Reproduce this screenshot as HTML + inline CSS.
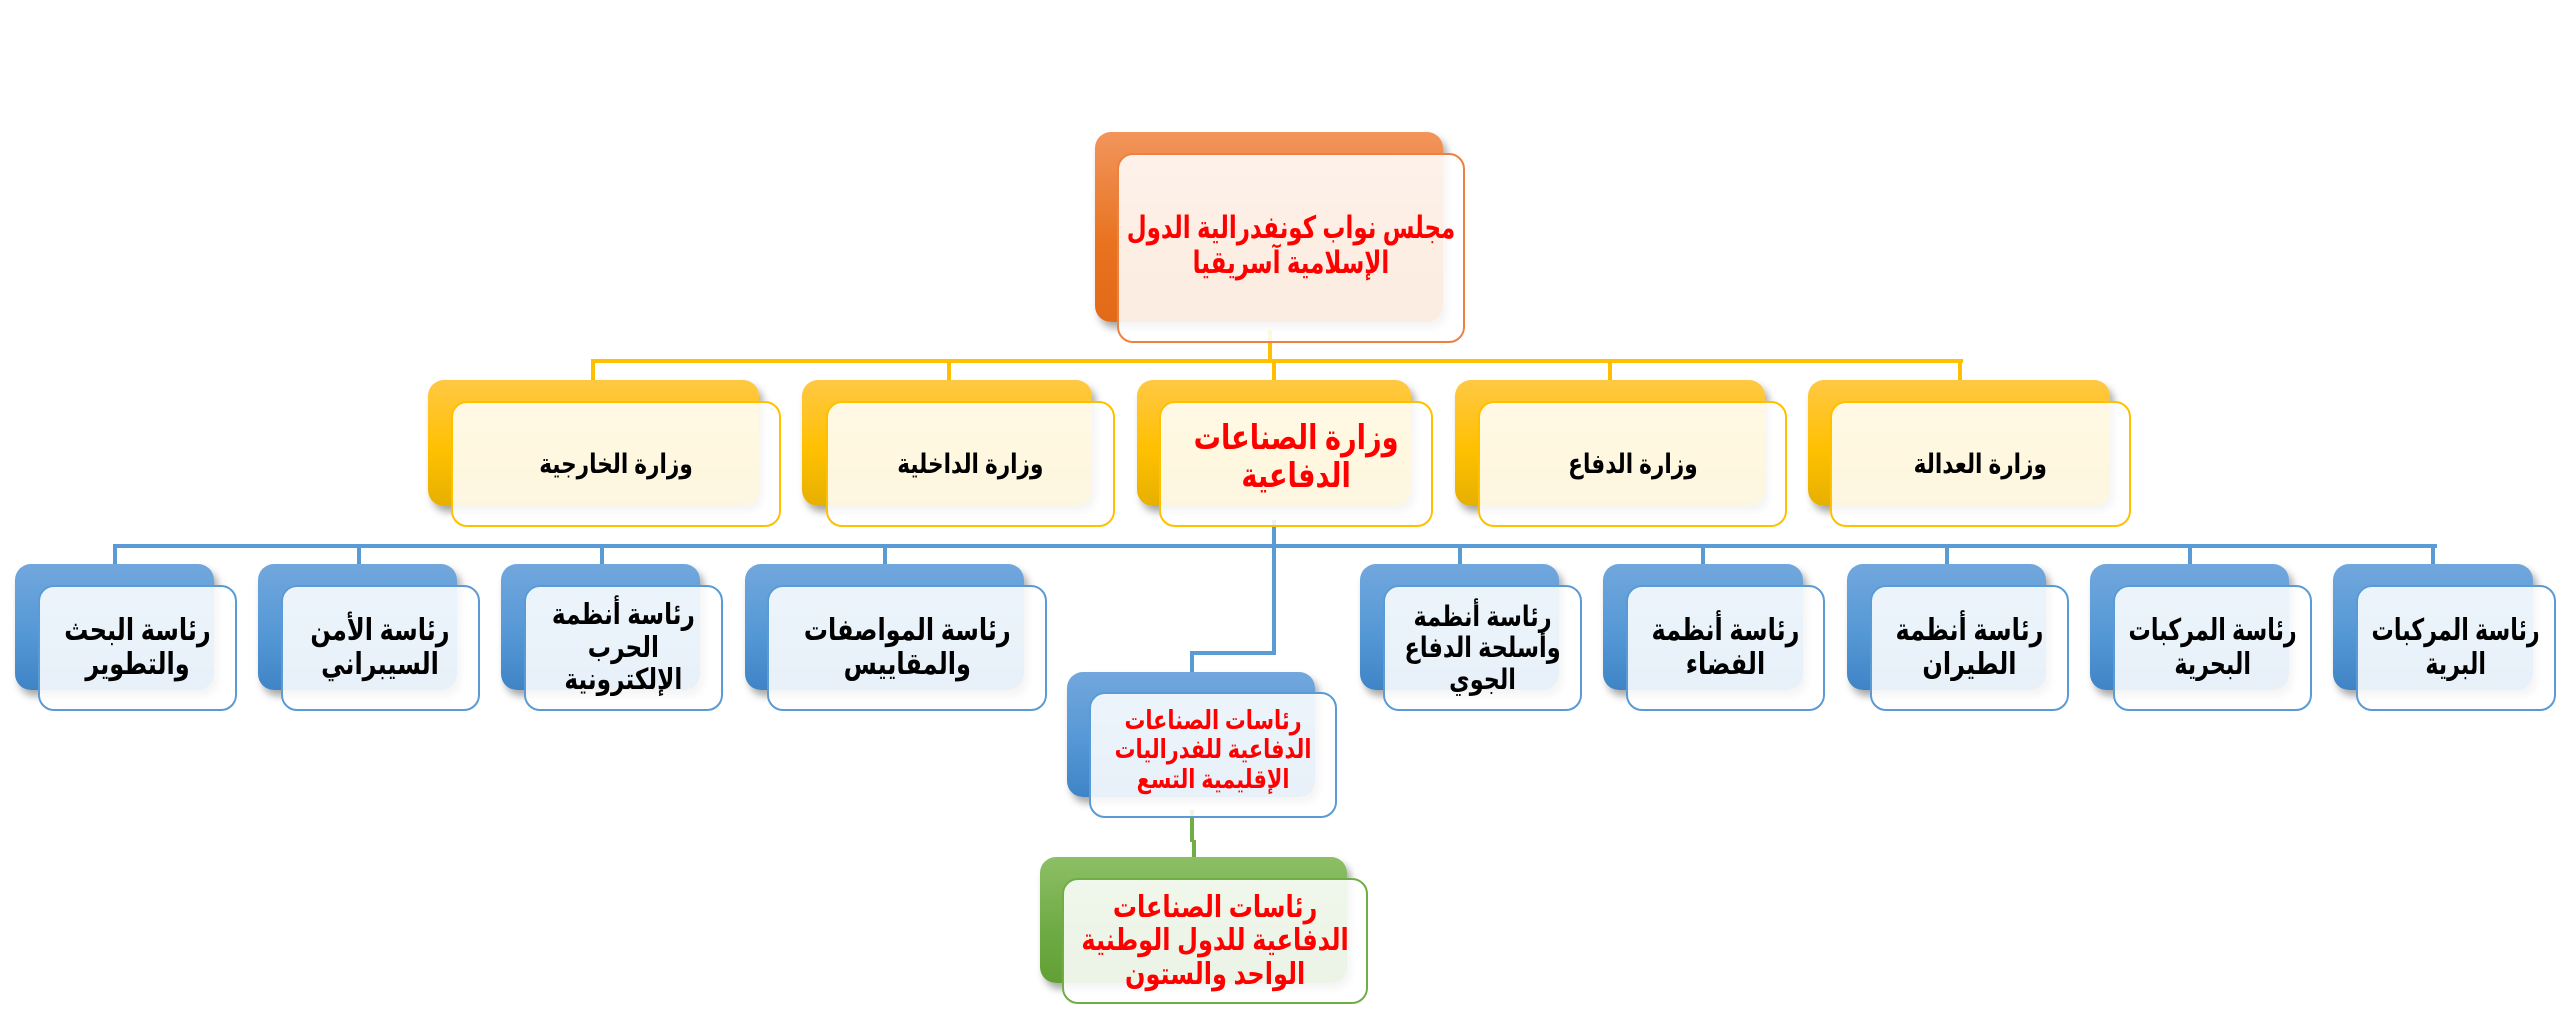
<!DOCTYPE html>
<html><head><meta charset="utf-8"><style>
html,body{margin:0;padding:0;background:#fff;}
body{width:2560px;height:1028px;position:relative;overflow:hidden;font-family:"Liberation Sans","DejaVu Sans",sans-serif;}
.b{position:absolute;border-radius:16px;box-shadow:4px 6px 8px rgba(0,0,0,0.35);}
.f{position:absolute;border-radius:16px;background:rgba(255,255,255,0.88);box-sizing:border-box;border:2px solid;display:flex;align-items:center;justify-content:center;text-align:center;direction:rtl;font-weight:bold;line-height:1.12;}
.f span{display:inline-block;white-space:nowrap;transform:scaleX(0.8);}
.o{background:linear-gradient(#F2955C,#E8721F 60%,#E26A18);}
.y{background:linear-gradient(#FFC845,#FFC000 55%,#E6B000);}
.bl{background:linear-gradient(#72A7DD,#5598D6 55%,#3F84C6);}
.g{background:linear-gradient(#8DBF66,#6EAA43 60%,#62A035);}
.fo{border-color:#EE8040;}
.fy{border-color:#FFC000;}
.fb{border-color:#5B9BD5;}
.fg{border-color:#70AD47;}
.l{position:absolute;}
.ly{background:#FFC000;}
.lb{background:#5B9BD5;}
.lg{background:#70AD47;}
.red{color:#FF0000;}
.blk{color:#000;}
</style></head><body>
<div class="l ly" style="left:1268px;top:330px;width:4px;height:33px"></div>
<div class="l ly" style="left:591px;top:359px;width:1372px;height:4px"></div>
<div class="l ly" style="left:591px;top:359px;width:4px;height:25px"></div>
<div class="l ly" style="left:947px;top:359px;width:4px;height:25px"></div>
<div class="l ly" style="left:1272px;top:359px;width:4px;height:25px"></div>
<div class="l ly" style="left:1608px;top:359px;width:4px;height:25px"></div>
<div class="l ly" style="left:1958px;top:359px;width:4px;height:25px"></div>

<div class="l lb" style="left:1272px;top:520px;width:4px;height:135px"></div>
<div class="l lb" style="left:113px;top:544px;width:2324px;height:4px"></div>
<div class="l lb" style="left:113px;top:544px;width:4px;height:24px"></div>
<div class="l lb" style="left:357px;top:544px;width:4px;height:24px"></div>
<div class="l lb" style="left:600px;top:544px;width:4px;height:24px"></div>
<div class="l lb" style="left:883px;top:544px;width:4px;height:24px"></div>
<div class="l lb" style="left:1458px;top:544px;width:4px;height:24px"></div>
<div class="l lb" style="left:1701px;top:544px;width:4px;height:24px"></div>
<div class="l lb" style="left:1945px;top:544px;width:4px;height:24px"></div>
<div class="l lb" style="left:2188px;top:544px;width:4px;height:24px"></div>
<div class="l lb" style="left:2431px;top:544px;width:4px;height:24px"></div>
<div class="l lb" style="left:1190px;top:651px;width:86px;height:4px"></div>
<div class="l lb" style="left:1190px;top:651px;width:4px;height:24px"></div>

<div class="l lg" style="left:1190px;top:810px;width:4px;height:32px"></div>
<div class="l lg" style="left:1192px;top:840px;width:4px;height:20px"></div>

<div class="b o" style="left:1095px;top:132px;width:348px;height:190px"></div>
<div class="f fo red" style="left:1117px;top:153px;width:348px;height:190px;font-size:31px;"><span style="transform:scaleX(0.74);margin-bottom:4px">مجلس نواب كونفدرالية الدول<br>الإسلامية آسريقيا</span></div>

<div class="b y" style="left:428px;top:380px;width:331px;height:126px"></div>
<div class="f fy blk" style="left:451px;top:401px;width:330px;height:126px;font-size:27px;"><span>وزارة الخارجية</span></div>
<div class="b y" style="left:802px;top:380px;width:290px;height:126px"></div>
<div class="f fy blk" style="left:826px;top:401px;width:289px;height:126px;font-size:27px;"><span>وزارة الداخلية</span></div>
<div class="b y" style="left:1137px;top:380px;width:274px;height:126px"></div>
<div class="f fy red" style="left:1159px;top:401px;width:274px;height:126px;font-size:34px;"><span style="margin-bottom:14px">وزارة الصناعات<br>الدفاعية</span></div>
<div class="b y" style="left:1455px;top:380px;width:310px;height:126px"></div>
<div class="f fy blk" style="left:1478px;top:401px;width:309px;height:126px;font-size:27px;"><span>وزارة الدفاع</span></div>
<div class="b y" style="left:1808px;top:380px;width:302px;height:126px"></div>
<div class="f fy blk" style="left:1830px;top:401px;width:301px;height:126px;font-size:27px;"><span>وزارة العدالة</span></div>

<div class="b bl" style="left:15px;top:564px;width:199px;height:126px"></div>
<div class="f fb blk" style="left:38px;top:585px;width:199px;height:126px;font-size:30px;"><span>رئاسة البحث<br>والتطوير</span></div>
<div class="b bl" style="left:258px;top:564px;width:199px;height:126px"></div>
<div class="f fb blk" style="left:281px;top:585px;width:199px;height:126px;font-size:30px;"><span>رئاسة الأمن<br>السيبراني</span></div>
<div class="b bl" style="left:501px;top:564px;width:199px;height:126px"></div>
<div class="f fb blk" style="left:524px;top:585px;width:199px;height:126px;font-size:29px;"><span>رئاسة أنظمة<br>الحرب<br>الإلكترونية</span></div>
<div class="b bl" style="left:745px;top:564px;width:279px;height:126px"></div>
<div class="f fb blk" style="left:767px;top:585px;width:280px;height:126px;font-size:30px;"><span>رئاسة المواصفات<br>والمقاييس</span></div>
<div class="b bl" style="left:1360px;top:564px;width:199px;height:126px"></div>
<div class="f fb blk" style="left:1383px;top:585px;width:199px;height:126px;font-size:28px;"><span>رئاسة أنظمة<br>وأسلحة الدفاع<br>الجوي</span></div>
<div class="b bl" style="left:1603px;top:564px;width:200px;height:126px"></div>
<div class="f fb blk" style="left:1626px;top:585px;width:199px;height:126px;font-size:30px;"><span>رئاسة أنظمة<br>الفضاء</span></div>
<div class="b bl" style="left:1847px;top:564px;width:199px;height:126px"></div>
<div class="f fb blk" style="left:1870px;top:585px;width:199px;height:126px;font-size:30px;"><span>رئاسة أنظمة<br>الطيران</span></div>
<div class="b bl" style="left:2090px;top:564px;width:199px;height:126px"></div>
<div class="f fb blk" style="left:2113px;top:585px;width:199px;height:126px;font-size:30px;"><span style="transform:scaleX(0.74)">رئاسة المركبات<br>البحرية</span></div>
<div class="b bl" style="left:2333px;top:564px;width:200px;height:126px"></div>
<div class="f fb blk" style="left:2356px;top:585px;width:200px;height:126px;font-size:30px;"><span style="transform:scaleX(0.74)">رئاسة المركبات<br>البرية</span></div>

<div class="b bl" style="left:1067px;top:672px;width:248px;height:125px"></div>
<div class="f fb red" style="left:1089px;top:692px;width:248px;height:126px;font-size:26px;"><span style="margin-bottom:10px">رئاسات الصناعات<br>الدفاعية للفدراليات<br>الإقليمية التسع</span></div>

<div class="b g" style="left:1040px;top:857px;width:307px;height:126px"></div>
<div class="f fg red" style="left:1062px;top:878px;width:306px;height:126px;font-size:30px;"><span>رئاسات الصناعات<br>الدفاعية للدول الوطنية<br>الواحد والستون</span></div>
</body></html>
